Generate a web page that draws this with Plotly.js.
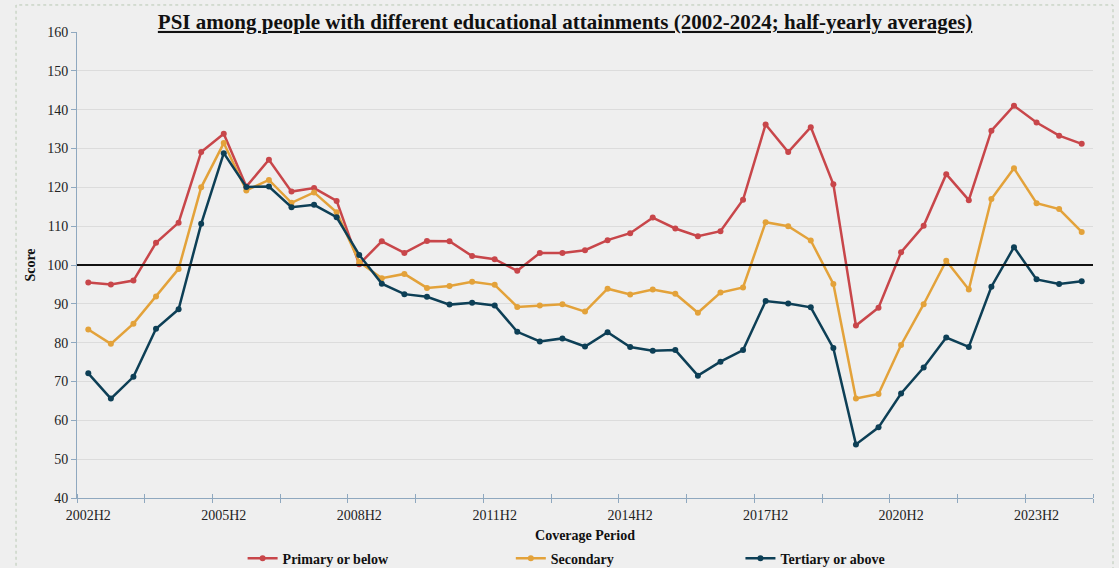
<!DOCTYPE html>
<html>
<head>
<meta charset="utf-8">
<script src="https://cdn.plot.ly/plotly-3.0.1.min.js"></script>
<style>html,body{margin:0;padding:0;background:#efefef;}#chart{width:1119px;height:568px;}</style>
</head>
<body>
<div id="chart"></div>
<script>
const periods = ['2002H2','2003H1','2003H2','2004H1','2004H2','2005H1','2005H2','2006H1','2006H2','2007H1','2007H2','2008H1','2008H2','2009H1','2009H2','2010H1','2010H2','2011H1','2011H2','2012H1','2012H2','2013H1','2013H2','2014H1','2014H2','2015H1','2015H2','2016H1','2016H2','2017H1','2017H2','2018H1','2018H2','2019H1','2019H2','2020H1','2020H2','2021H1','2021H2','2022H1','2022H2','2023H1','2023H2','2024H1','2024H2'];
const tickLabels = ['2002H2','2005H2','2008H2','2011H2','2014H2','2017H2','2020H2','2023H2'];
const primary = [95.5,95.0,96.0,105.7,110.9,129.1,133.8,120.2,127.1,118.9,119.8,116.5,100.2,106.1,103.1,106.2,106.1,102.3,101.5,98.5,103.1,103.1,103.8,106.4,108.2,112.2,109.4,107.4,108.7,116.8,136.2,129.1,135.5,120.8,84.4,89.0,103.3,110.1,123.4,116.7,134.6,141.0,136.7,133.3,131.2];
const secondary = [83.4,79.7,84.9,91.9,99.0,120.0,131.4,119.2,121.9,116.0,118.7,113.6,100.8,96.6,97.7,94.1,94.6,95.7,94.9,89.2,89.6,89.9,88.0,93.9,92.4,93.7,92.6,87.7,92.9,94.2,111.0,110.0,106.3,95.1,65.6,66.8,79.4,89.9,101.1,93.7,117.0,124.9,115.9,114.4,108.5];
const tertiary = [72.1,65.6,71.2,83.6,88.6,110.6,128.8,120.1,120.2,114.9,115.5,112.3,102.6,95.2,92.5,91.8,89.8,90.3,89.6,82.8,80.3,81.1,79.0,82.7,78.9,77.9,78.1,71.5,75.1,78.1,90.7,90.1,89.1,78.6,53.8,58.2,66.9,73.6,81.3,78.9,94.4,104.6,96.3,95.1,95.8];
const seriesNames = ['Primary or below','Secondary','Tertiary or above'];
const seriesColors = ['#c8464a','#e3a23a','#0d3f56'];
const referenceLevel = 100;

const xIdx = periods.map((p, i) => i);
const serif = 'Liberation Serif, Times New Roman, serif';
const legendIds = ['legend','legend2','legend3'];
const traces = [primary, secondary, tertiary].map((vals, k) => ({
  type: 'scatter', mode: 'lines+markers', name: seriesNames[k],
  x: xIdx, y: vals, text: periods,
  line: {color: seriesColors[k], width: 2.5},
  marker: {color: seriesColors[k], size: 6},
  legend: legendIds[k], showlegend: true,
  hoverinfo: 'skip'
}));
// helper trace so the overlay axis (inner half of the crossing tick marks) is drawn
traces.push({type: 'scatter', mode: 'markers', x: [0], y: [null], xaxis: 'x2', showlegend: false, hoverinfo: 'skip'});

const legendBase = {orientation: 'h', y: -0.13, yanchor: 'middle', xanchor: 'left', bgcolor: 'rgba(0,0,0,0)',
  font: {family: serif, size: 14, color: '#111', weight: 'bold'}, itemwidth: 30};

const axisLine = '#8fa8bf';
const layout = {
  width: 1119, height: 568, showlegend: true,
  paper_bgcolor: '#efefef', plot_bgcolor: '#efefef',
  margin: {l: 77, r: 26, t: 32, b: 70, autoexpand: false},
  title: {text: '<b><u>PSI among people with different educational attainments (2002-2024; half-yearly averages)</u></b>',
    font: {family: serif, size: 21, color: '#111'}, x: 0.505, xanchor: 'center', y: 0.962, yanchor: 'middle', yref: 'container'},
  xaxis: {
    range: [-0.5, periods.length - 0.5], tickmode: 'array',
    tickvals: tickLabels.map(t => periods.indexOf(t)), ticktext: tickLabels,
    ticks: '', showgrid: false, zeroline: false,
    showline: true, linecolor: axisLine, linewidth: 1,
    minor: {tick0: -0.5, dtick: 3, ticks: 'outside', ticklen: 4, tickcolor: axisLine, tickwidth: 1, showgrid: false},
    tickfont: {family: serif, size: 14, color: '#222'}, ticklabelstandoff: 4,
    title: {text: '<b>Coverage Period</b>', font: {family: serif, size: 14, color: '#111'}, standoff: 8},
    automargin: false, fixedrange: true
  },
  xaxis2: {
    overlaying: 'x', side: 'bottom', anchor: 'y',
    range: [-0.5, periods.length - 0.5], tickmode: 'array', tickvals: [], showticklabels: false,
    ticks: '', showgrid: false, zeroline: false, showline: false,
    minor: {tick0: -0.5, dtick: 3, ticks: 'inside', ticklen: 4, tickcolor: axisLine, tickwidth: 1, showgrid: false},
    automargin: false, fixedrange: true
  },
  yaxis: {
    range: [40, 160], dtick: 10, tick0: 40,
    showgrid: true, gridcolor: '#dcdcdc', gridwidth: 1, zeroline: false,
    showline: true, linecolor: axisLine, linewidth: 1,
    ticks: 'outside', ticklen: 5, tickcolor: axisLine,
    tickfont: {family: serif, size: 14, color: '#222'},
    title: {text: '<b>Score</b>', font: {family: serif, size: 14, color: '#111'}, standoff: 8},
    automargin: false, fixedrange: true
  },
  legend: Object.assign({}, legendBase, {x: 0.163}),
  legend2: Object.assign({}, legendBase, {x: 0.427}),
  legend3: Object.assign({}, legendBase, {x: 0.653}),
  shapes: [
    {type: 'line', xref: 'paper', x0: 0, x1: 1, yref: 'y', y0: referenceLevel, y1: referenceLevel,
     line: {color: '#111', width: 2}},
    {type: 'rect', xref: 'paper', yref: 'paper', x0: -0.060, x1: 1.0197, y0: -0.17, y1: 1.058,
     line: {color: '#b9c9b4', width: 1, dash: 'dot'}, fillcolor: 'rgba(0,0,0,0)', layer: 'below'}
  ],
  hovermode: false
};

Plotly.newPlot('chart', traces, layout, {displayModeBar: false, staticPlot: true});
</script>
</body>
</html>
